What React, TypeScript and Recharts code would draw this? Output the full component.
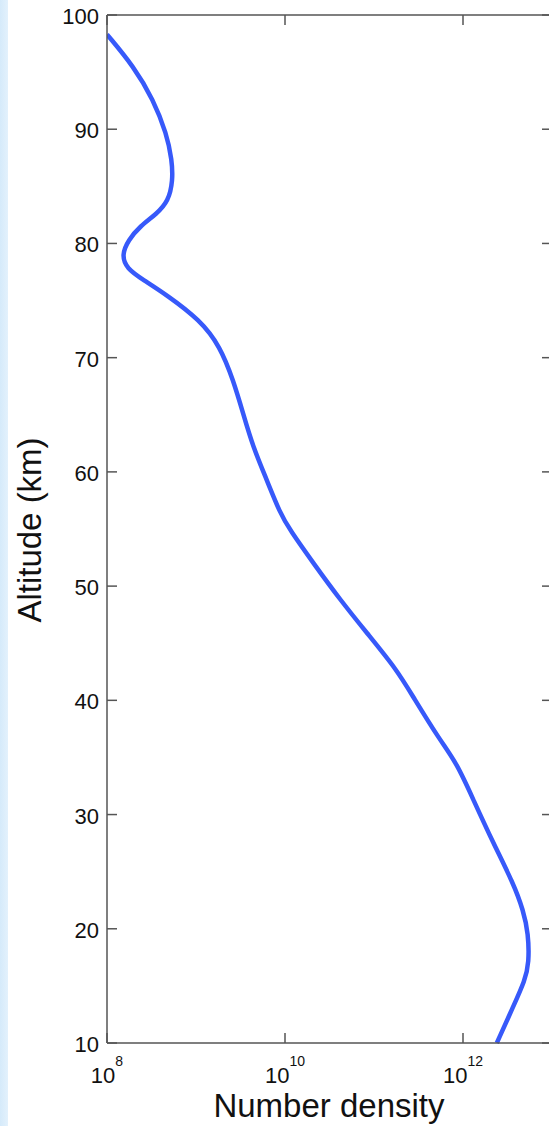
import React from "react";
import { LineChart, Line, XAxis, YAxis } from "recharts";

// Profile sampled from top to bottom
const altitudeKm = [
  98.3, 95.5, 92.6, 89.6, 87.3, 85.5, 83.7, 82.6, 81.5, 80.3, 79.0, 77.8, 76.8,
  75.5, 73.3, 71.0, 68.0, 65.1, 62.2, 59.3, 56.4, 54.9, 52.0, 48.8, 45.9,
  42.7, 40.3, 36.5, 34.5, 31.3, 27.5, 24.0, 21.6, 19.6, 17.0, 15.5, 13.2, 10.0,
];
// log10 of number density at each altitude
const densityExp = [
  8.0, 8.3, 8.52, 8.67, 8.73, 8.74, 8.69, 8.56, 8.37, 8.24, 8.165, 8.22, 8.41,
  8.67, 9.045, 9.27, 9.42, 9.53, 9.64, 9.795, 9.944, 10.056, 10.32, 10.62,
  10.92, 11.255, 11.44, 11.742, 11.93, 12.116, 12.34, 12.565, 12.678, 12.734,
  12.742, 12.697, 12.565, 12.38,
];

const densityTicks = [1e8, 1e10, 1e12];
const altitudeTicks = [10, 20, 30, 40, 50, 60, 70, 80, 90, 100];

const data = altitudeKm.map((alt, i) => ({ alt, density: Math.pow(10, densityExp[i]) }));

const AXIS = "#555";
const TEXT = "#111";
const FONT = "'Liberation Sans', Arial, Helvetica, sans-serif";
const TICK_LEN = 10;

const BottomTick = (props: any) => {
  const { x, y, payload } = props;
  const exp = Math.round(Math.log10(payload.value));
  return (
    <g>
      <line x1={x} y1={y} x2={x} y2={y - TICK_LEN} stroke={AXIS} strokeWidth={1.5} />
      <text x={x} y={y + 40} textAnchor="middle" fontSize={22} fill={TEXT} fontFamily={FONT}>
        <tspan>10</tspan>
        <tspan dy={-17} fontSize={14}>
          {exp}
        </tspan>
      </text>
    </g>
  );
};

const TopTick = (props: any) => {
  const { x, y } = props;
  return <line x1={x} y1={y} x2={x} y2={y + TICK_LEN} stroke={AXIS} strokeWidth={1.5} />;
};

const LeftTick = (props: any) => {
  const { x, y, payload } = props;
  return (
    <g>
      <line x1={x} y1={y} x2={x + TICK_LEN} y2={y} stroke={AXIS} strokeWidth={1.5} />
      <text x={x - 8} y={y + 9} textAnchor="end" fontSize={22} fill={TEXT} fontFamily={FONT}>
        {payload.value}
      </text>
    </g>
  );
};

const RightTick = (props: any) => {
  const { x, y } = props;
  return <line x1={x} y1={y} x2={x - TICK_LEN} y2={y} stroke={AXIS} strokeWidth={1.5} />;
};

export default function App() {
  return (
    <div
      style={{
        position: "absolute",
        left: 0,
        top: 0,
        width: 549,
        height: 1126,
        overflow: "hidden",
        background: "#fff",
      }}
    >
      <div
        style={{
          position: "absolute",
          left: 0,
          top: 0,
          width: 8,
          height: 1126,
          background: "linear-gradient(to right, #d5eafa, #e3f1fc)",
        }}
      />
      <LineChart
        width={560}
        height={1126}
        data={data}
        margin={{ top: 0, right: 0, bottom: 0, left: 0 }}
        style={{ position: "absolute", left: 0, top: 0 }}
      >
        <XAxis
          xAxisId="bottom"
          dataKey="density"
          type="number"
          scale="log"
          domain={[1e8, 1e13]}
          allowDataOverflow
          ticks={densityTicks}
          height={83}
          tickSize={0}
          tickMargin={0}
          tickLine={false}
          axisLine={{ stroke: AXIS, strokeWidth: 1.5 }}
          tick={<BottomTick />}
        />
        <XAxis
          xAxisId="top"
          orientation="top"
          dataKey="density"
          type="number"
          scale="log"
          domain={[1e8, 1e13]}
          allowDataOverflow
          ticks={densityTicks}
          height={15}
          tickSize={0}
          tickMargin={0}
          tickLine={false}
          axisLine={{ stroke: AXIS, strokeWidth: 1.5 }}
          tick={<TopTick />}
        />
        <YAxis
          yAxisId="left"
          dataKey="alt"
          type="number"
          domain={[10, 100]}
          ticks={altitudeTicks}
          width={107}
          tickSize={0}
          tickMargin={0}
          tickLine={false}
          axisLine={{ stroke: AXIS, strokeWidth: 1.5 }}
          tick={<LeftTick />}
        />
        <YAxis
          yAxisId="right"
          orientation="right"
          dataKey="alt"
          type="number"
          domain={[10, 100]}
          ticks={altitudeTicks}
          width={8}
          tickSize={0}
          tickMargin={0}
          tickLine={false}
          axisLine={{ stroke: AXIS, strokeWidth: 1.5 }}
          tick={<RightTick />}
        />
        <Line
          xAxisId="bottom"
          yAxisId="left"
          dataKey="alt"
          type="basis"
          stroke="#3759fa"
          strokeWidth={4.5}
          dot={false}
          isAnimationActive={false}
        />
        <text
          x={41}
          y={530}
          transform="rotate(-90, 41, 530)"
          textAnchor="middle"
          fontSize={33}
          fill={TEXT}
          fontFamily={FONT}
        >
          Altitude (km)
        </text>
        <text x={329} y={1117} textAnchor="middle" fontSize={33} fill={TEXT} fontFamily={FONT}>
          Number density
        </text>
      </LineChart>
    </div>
  );
}
